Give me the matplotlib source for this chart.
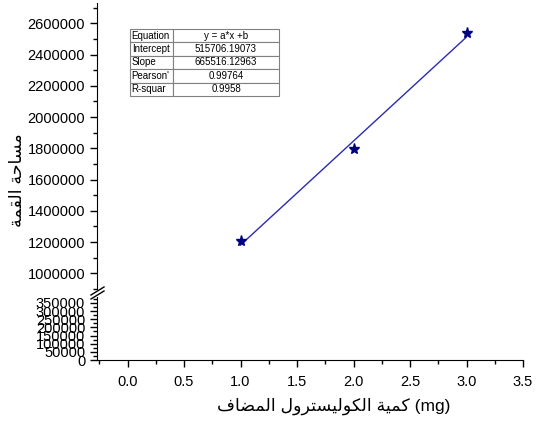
import matplotlib
matplotlib.use("Agg")
import matplotlib.pyplot as plt
import numpy as np

plt.rcParams["font.family"] = ["Liberation Sans", "DejaVu Sans"]

# data
x_mg = [1.0, 2.0, 3.0]
peak_area = [1206092, 1797000, 2537124]

x_ticks = [0.0, 0.5, 1.0, 1.5, 2.0, 2.5, 3.0, 3.5]
upper_ticks = [1000000, 1200000, 1400000, 1600000, 1800000,
               2000000, 2200000, 2400000, 2600000]
lower_ticks = [0, 50000, 100000, 150000, 200000, 250000, 300000, 350000]

table_rows = ["Equation", "Intercept", "Slope", "Pearson'", "R-squar"]
table_vals = ["y = a*x +b", "515706.19073", "665516.12963", "0.99764", "0.9958"]

xlabel_ar = "كمية الكوليسترول المضاف"
ylabel_ar = "مساحة القمة"

# minimal arabic shaping (presentation forms: iso, fin, ini, med)
FORMS = {
    "ا": (0xFE8D, 0xFE8E, None, None),
    "ل": (0xFEDD, 0xFEDE, 0xFEDF, 0xFEE0),
    "م": (0xFEE1, 0xFEE2, 0xFEE3, 0xFEE4),
    "ض": (0xFEBD, 0xFEBE, 0xFEBF, 0xFEC0),
    "ف": (0xFED1, 0xFED2, 0xFED3, 0xFED4),
    "ك": (0xFED9, 0xFEDA, 0xFEDB, 0xFEDC),
    "و": (0xFEED, 0xFEEE, None, None),
    "ي": (0xFEF1, 0xFEF2, 0xFEF3, 0xFEF4),
    "س": (0xFEB1, 0xFEB2, 0xFEB3, 0xFEB4),
    "ت": (0xFE95, 0xFE96, 0xFE97, 0xFE98),
    "ر": (0xFEAD, 0xFEAE, None, None),
    "ة": (0xFE93, 0xFE94, None, None),
    "ح": (0xFEA1, 0xFEA2, 0xFEA3, 0xFEA4),
    "ق": (0xFED5, 0xFED6, 0xFED7, 0xFED8),
}


def shape(text):
    out = []
    for i, ch in enumerate(text):
        if ch not in FORMS:
            out.append(ch)
            continue
        f = FORMS[ch]
        prev = text[i - 1] if i > 0 else ""
        nxt = text[i + 1] if i + 1 < len(text) else ""
        jp = prev in FORMS and FORMS[prev][2] is not None
        jn = f[2] is not None and nxt in FORMS
        if jp and jn:
            code = f[3]
        elif jp:
            code = f[1]
        elif jn:
            code = f[2]
        else:
            code = f[0]
        out.append(chr(code))
    return "".join(out)[::-1]


fig = plt.figure(figsize=(5.36, 4.23), dpi=100)
W, H = 536, 423
ax_l, ax_r = 97 / W, 523 / W
ax_top = fig.add_axes([ax_l, 1 - 289 / H, ax_r - ax_l, (289 - 3) / H])
ax_bot = fig.add_axes([ax_l, 1 - 360 / H, ax_r - ax_l, (360 - 297) / H])

navy = "#000080"
slope, icpt = np.polyfit(x_mg, peak_area, 1)
xf = np.array([x_mg[0], x_mg[-1]])
ax_top.plot(xf, slope * xf + icpt, color="#2b2bb0", lw=1.0)
ax_top.plot(x_mg, peak_area, "*", color=navy, ms=8, mec=navy)

for ax in (ax_top, ax_bot):
    ax.set_xlim(-0.27, 3.5)
    ax.spines["top"].set_visible(False)
    ax.spines["right"].set_visible(False)
    ax.tick_params(direction="out", length=5, width=1, labelsize=10.5)
    ax.tick_params(which="minor", direction="out", length=3, width=1)

ax_top.set_ylim(900000, 2730000)
ax_top.set_yticks(upper_ticks)
ax_top.set_yticklabels([str(v) for v in upper_ticks])
ax_top.set_yticks(np.arange(900000, 2730000, 100000), minor=True)
ax_top.spines["bottom"].set_visible(False)
ax_top.tick_params(axis="x", which="both", bottom=False, labelbottom=False)

ax_bot.set_ylim(0, 386000)
ax_bot.set_yticks(lower_ticks)
ax_bot.set_yticklabels([str(v) for v in lower_ticks])
ax_bot.set_yticks(np.arange(0, 386000, 25000), minor=True)
ax_bot.set_xticks(x_ticks)
ax_bot.set_xticklabels([f"{v:.1f}" for v in x_ticks])
ax_bot.set_xticks(np.arange(-0.25, 3.6, 0.25), minor=True)
ax_bot.tick_params(axis="x", pad=6)

ax_bot.set_xlabel(shape(xlabel_ar) + " (mg)", fontsize=12.5)
ax_bot.xaxis.set_label_coords((334 - 97) / 426, -(398 - 360) / 63)
fig.text(18 / W, 1 - 180 / H, shape(ylabel_ar), rotation=90,
         ha="center", va="center", fontsize=12.5)

# break marks on the y axis
for yb in (291, 295):
    fig.add_artist(plt.Line2D([91 / W, 104 / W],
                              [1 - (yb + 4) / H, 1 - (yb - 4) / H],
                              color="black", lw=1))

tbl = ax_top.table(cellText=[[r, v] for r, v in zip(table_rows, table_vals)],
                   colWidths=[43 / 149, 106 / 149],
                   cellLoc="center",
                   bbox=[33 / 426, (289 - 96) / 286, 149 / 426, 67 / 286])
tbl.auto_set_font_size(False)
tbl.set_fontsize(7)
for (r, c), cell in tbl.get_celld().items():
    cell.set_edgecolor("#808080")
    cell.set_linewidth(0.8)
    if c == 0:
        cell.get_text().set_ha("left")
        cell.PAD = 0.04

fig.savefig("out.png", dpi=100)
